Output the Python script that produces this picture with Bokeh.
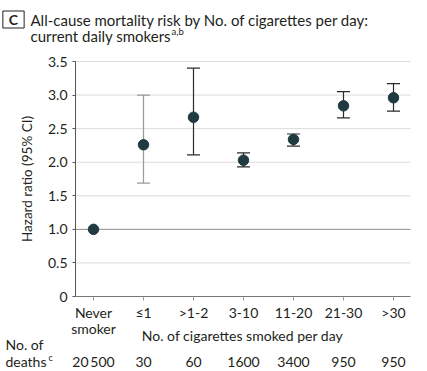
from bokeh.plotting import figure
from bokeh.models import FixedTicker, Label, PrintfTickFormatter
from bokeh.embed import file_html
from bokeh.resources import INLINE

# ---- data ----
categories = ["Never\nsmoker", "≤1", ">1-2", "3-10", "11-20", "21-30", ">30"]
hazard_ratio = [1.00, 2.26, 2.67, 2.03, 2.34, 2.84, 2.96]
ci_lower = [None, 1.69, 2.11, 1.93, 2.24, 2.66, 2.76]
ci_upper = [None, 3.00, 3.40, 2.14, 2.42, 3.05, 3.17]
deaths = ["20\u2009500", "30", "60", "1600", "3400", "950", "950"]
y_ticks = [0, 0.5, 1.0, 1.5, 2.0, 2.5, 3.0, 3.5]

FONT = "Lato"
FS = "14px"
TXT = "#231f20"
W, H = 427, 371
# visible plot area (data) and where it sits on the canvas (px)
AX0, AX1, AY0, AY1 = -0.36, 6.34, 0.0, 3.5
PL, PR, PT, PB = 75, 410, 61, 296
KX = (AX1 - AX0) / (PR - PL)
KY = (AY1 - AY0) / (PB - PT)
def dx(px):
    return AX0 + (px - PL) * KX
def dy(py):
    return AY0 + (PB - py) * KY

xs = list(range(len(categories)))

p = figure(width=W, height=H, x_range=(dx(0), dx(W)), y_range=(dy(H), dy(0)),
           output_backend="svg", toolbar_location=None,
           min_border=0)
p.outline_line_color = None
p.background_fill_color = "white"
p.xgrid.grid_line_color = None
p.ygrid.grid_line_color = None

# horizontal grid lines limited to the plotting area, darker reference line at 1
grid_y = [t for t in y_ticks if t not in (0, 1.0)]
p.segment(x0=[AX0] * len(grid_y), x1=[AX1] * len(grid_y), y0=grid_y, y1=grid_y,
          line_color="#dcdcdc", line_width=1)
p.segment(x0=[AX0], x1=[AX1], y0=[1.0], y1=[1.0], line_color="#8c8c8c", line_width=1)

# y axis fixed at the left edge of the plotting area
ya = p.yaxis[0]
ya.fixed_location = AX0
ya.bounds = (AY0, AY1)
ya.ticker = FixedTicker(ticks=y_ticks)
ya.formatter = PrintfTickFormatter(format="%.1f")
ya.major_label_overrides = {0: "0"}
ya.axis_line_color = "#555555"
ya.major_tick_line_color = "#555555"
ya.major_tick_out = 3
ya.major_tick_in = 0
ya.minor_tick_line_color = None
ya.major_label_standoff = 5
ya.major_label_text_font = FONT
ya.major_label_text_font_size = FS
ya.major_label_text_color = TXT
ya.axis_label = "Hazard ratio (95% CI)"
ya.axis_label_text_font = FONT
ya.axis_label_text_font_style = "normal"
ya.axis_label_text_font_size = "13.5px"
ya.axis_label_text_color = TXT
ya.axis_label_standoff = 10

# x axis fixed at y = 0
xa = p.xaxis[0]
xa.fixed_location = AY0
xa.bounds = (AX0, AX1)
xa.ticker = FixedTicker(ticks=xs)
xa.major_label_overrides = {i: c.split("\n")[0] for i, c in zip(xs, categories)}
xa.major_label_text_font = FONT
xa.major_label_text_font_size = FS
xa.major_label_text_color = TXT
xa.major_label_standoff = 3
xa.axis_line_color = "#777777"
xa.major_tick_line_color = "#999999"
xa.major_tick_out = 4
xa.major_tick_in = 0
xa.minor_tick_line_color = None

# error bars
bar_colors = ["#999999" if i == 1 else "#2b2b2b" for i in xs]
ex = [x for x, lo in zip(xs, ci_lower) if lo is not None]
elo = [lo for lo in ci_lower if lo is not None]
ehi = [hi for hi in ci_upper if hi is not None]
ecol = [c for c, lo in zip(bar_colors, ci_lower) if lo is not None]
p.segment(x0=ex, x1=ex, y0=elo, y1=ehi, line_color=ecol, line_width=1.2)
p.scatter(x=ex + ex, y=elo + ehi, marker="dash", size=13, line_color=ecol + ecol, line_width=1.2)

# points
p.scatter(x=xs, y=hazard_ratio, size=10.5, fill_color="#1f3b40", line_color="#1f3b40")

# ---- texts ----
def lab(text, x, py, size=FS, align="left", x_is_data=False, **kw):
    l = Label(text=text, x=(x if x_is_data else dx(x)), y=dy(py),
              text_font=FONT, text_font_size=size, text_color=TXT,
              text_align=align, text_baseline="middle", **kw)
    p.add_layout(l)
    return l

# second line of the category labels
for x, c in zip(xs, categories):
    for j, line in enumerate(c.split("\n")[1:]):
        lab(line, x, 328 + 18 * j, align="center", x_is_data=True)
# x-axis title
lab("No. of cigarettes smoked per day", 242, 335, align="center")
# deaths row
lab("No. of", 5, 344)
lab("deaths", 5, 361)
lab("c", 48, 357, size="9px")
for x, d in zip(xs, deaths):
    lab(d, x, 361, align="center", x_is_data=True)

# title
lab("C", 13, 19, align="center", text_font_style="bold",
    border_line_color="#231f20", border_line_width=1, padding=(6, 0))
lab("All-cause mortality risk by No. of cigarettes per day:", 30, 19, size="15px")
lab("current daily smokers", 30, 35, size="15px")
lab("a,b", 171, 31, size="9.5px")

open("out.html", "w").write(file_html(p, INLINE))
